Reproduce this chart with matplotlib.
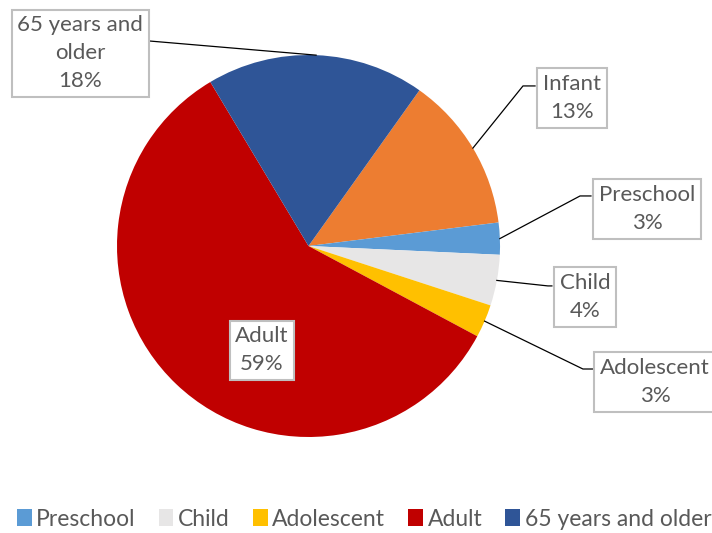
"""Pie chart of age groups with boxed data labels, Excel-like style."""

import matplotlib

matplotlib.use("Agg")
import matplotlib.pyplot as plt
import numpy as np

# data
groups = ["Infant", "Preschool", "Child", "Adolescent", "Adult", "65 years and older"]
label_names = ["Infant", "Preschool", "Child", "Adolescent", "Adult", "65 years and\nolder"]
shares = [13.2, 2.7, 4.3, 2.8, 58.6, 18.4]
legend_groups = ["Preschool", "Child", "Adolescent", "Adult", "65 years and older"]

colors = ["#ED7D31", "#5B9BD5", "#E7E6E6", "#FFC000", "#C00000", "#2F5597"]
text_color = "#595959"

# label box centres and leader line paths (axes data coords, pie radius = 1)
label_pos = {
    "Infant": (1.376, 0.775),
    "Preschool": (1.768, 0.194),
    "Child": (1.444, -0.267),
    "Adolescent": (1.809, -0.712),
    "Adult": (-0.243, -0.545),
    "65 years and older": (-1.193, 1.010),
}
leader_path = {
    "Infant": [(1.120, 0.838), (1.183, 0.838)],
    "Preschool": [(1.418, 0.262), (1.475, 0.262)],
    "Child": [(1.250, -0.209), (1.271, -0.209)],
    "Adolescent": [(1.433, -0.644), (1.501, -0.644)],
    "65 years and older": [(-0.827, 1.073)],
}

plt.rcParams["font.family"] = ["Lato", "DejaVu Sans"]

fig = plt.figure(figsize=(7.12, 5.33), dpi=100)
ax = fig.add_axes([117 / 712, 96 / 533, 383 / 712, 382 / 533])

wedges, _ = ax.pie(
    shares,
    colors=colors,
    startangle=54.6,
    counterclock=False,
    radius=1.0,
    wedgeprops={"linewidth": 0},
)
ax.set_xlim(-1, 1)
ax.set_ylim(-1, 1)
ax.set_aspect("auto")
ax.set_xticks([])
ax.set_yticks([])
for side, spine in ax.spines.items():
    spine.set_visible(True)
    spine.set_linewidth(0.9)
    spine.set_color("#595959" if side != "top" else "#BFBFBF")

for wedge, name, label, value in zip(wedges, groups, label_names, shares):
    cx, cy = label_pos[name]
    ax.text(
        cx,
        cy,
        f"{label}\n{value:.0f}%",
        ha="center",
        va="center",
        multialignment="center",
        fontsize=16,
        color=text_color,
        linespacing=1.5,
        clip_on=False,
        zorder=5,
        bbox={
            "boxstyle": "square,pad=0.25",
            "facecolor": "white",
            "edgecolor": "#BFBFBF",
            "linewidth": 1.5,
        },
    )
    if name in leader_path:
        mid = np.deg2rad((wedge.theta1 + wedge.theta2) / 2)
        points = [(np.cos(mid), np.sin(mid))] + leader_path[name]
        xs, ys = zip(*points)
        ax.plot(xs, ys, color="black", linewidth=0.9, clip_on=False, zorder=4)

legend_handles = [wedges[groups.index(g)] for g in legend_groups]
fig.legend(
    legend_handles,
    legend_groups,
    loc="center",
    bbox_to_anchor=(364 / 712, 14 / 533),
    ncol=5,
    frameon=False,
    fontsize=16.5,
    labelcolor=text_color,
    handlelength=0.65,
    handleheight=0.75,
    handletextpad=0.2,
    columnspacing=1.0,
    borderaxespad=0,
)

fig.savefig("out.png", dpi=100)
